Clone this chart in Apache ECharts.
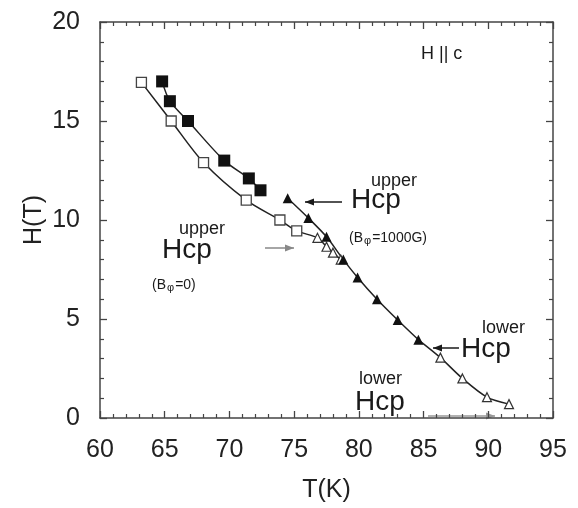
<!DOCTYPE html>
<html>
<head>
<meta charset="utf-8">
<script src="https://cdn.jsdelivr.net/npm/echarts@6/dist/echarts.min.js"></script>
<style>
	html, body { margin: 0; padding: 0; background: #fff; }
	#chart { width: 578px; height: 508px; }
</style>
</head>
<body>
<div id="chart"></div>
<script>
	// upper Hcp, B_phi = 1000G (filled squares)
	const filledSqT = [64.8, 65.4, 66.8, 69.6, 71.5, 72.4];
	const filledSqH = [17.0, 16.0, 15.0, 13.0, 12.1, 11.5];
	// upper Hcp, B_phi = 0 (open squares)
	const openSqT = [63.2, 65.5, 68.0, 71.3, 73.9, 75.2];
	const openSqH = [16.95, 15.0, 12.9, 11.0, 10.0, 9.45];
	// filled triangles
	const filledTriT = [74.5, 76.1, 77.5, 78.8, 79.9, 81.4, 83.0, 84.6];
	const filledTriH = [11.1, 10.1, 9.15, 8.0, 7.1, 6.0, 4.95, 3.95];
	// open triangles (upper group follows the open squares)
	const openTriUpT = [76.8, 77.5, 78.0, 78.6];
	const openTriUpH = [9.1, 8.65, 8.35, 8.0];
	// open triangles, lower end
	const openTriLowT = [86.3, 88.0, 89.9, 91.6];
	const openTriLowH = [3.05, 2.0, 1.05, 0.7];

	const xTicks = [60, 65, 70, 75, 80, 85, 90, 95];
	const yTicks = [0, 5, 10, 15, 20];

	const pair = (t, h) => t.map((v, i) => [v, h[i]]);

	const openSq = { color: '#fff', borderColor: '#444', borderWidth: 1.3 };
	const openTri = { color: '#fff', borderColor: '#333', borderWidth: 1.2 };

	// B_phi=0 curve: open squares then the upper open triangles
	const zeroData = pair(openSqT, openSqH).map(p => ({ value: p, symbol: 'rect', symbolSize: 10, itemStyle: openSq }))
		.concat(pair(openTriUpT, openTriUpH).map(p => ({ value: p, symbol: 'triangle', symbolSize: 9, itemStyle: openTri })));

	// lower tail: starts at the last filled triangle
	const lastF = filledTriT.length - 1;
	const tailData = [{ value: [filledTriT[lastF], filledTriH[lastF]], symbol: 'none' }]
		.concat(pair(openTriLowT, openTriLowH).map(p => ({ value: p, symbol: 'triangle', symbolSize: 9, itemStyle: openTri })));

	const axisCol = '#444';
	const baseX = {
		type: 'value', min: xTicks[0], max: xTicks[xTicks.length - 1], interval: 5,
		axisLine: { show: true, onZero: false, lineStyle: { color: axisCol, width: 1.5 } },
		axisTick: { inside: true, length: 7, lineStyle: { color: axisCol, width: 1.3 } },
		minorTick: { show: true, splitNumber: 5, length: 4, lineStyle: { color: axisCol, width: 1.2 } },
		splitLine: { show: false }
	};
	const baseY = {
		type: 'value', min: yTicks[0], max: yTicks[yTicks.length - 1], interval: 5,
		axisLine: { show: true, onZero: false, lineStyle: { color: axisCol, width: 1.5 } },
		axisTick: { inside: true, length: 7, lineStyle: { color: axisCol, width: 1.3 } },
		minorTick: { show: true, splitNumber: 5, length: 4, lineStyle: { color: axisCol, width: 1.2 } },
		splitLine: { show: false }
	};
	const font = '"Liberation Sans", Arial, sans-serif';

	function txt(x, y, text, size, extra) {
		return Object.assign({
			type: 'text', x: x, y: y, silent: true,
			style: { text: text, font: size + 'px ' + font, fill: '#1a1a1a', textVerticalAlign: 'middle' }
		}, extra || {});
	}
	function arrow(x1, x2, y, col) {
		const dir = x2 > x1 ? -1 : 1;
		return [
			{ type: 'line', silent: true, shape: { x1: x1, y1: y, x2: x2, y2: y }, style: { stroke: col, lineWidth: 1.5 } },
			{ type: 'polygon', silent: true, shape: { points: [[x2, y], [x2 + dir * 9, y - 3.5], [x2 + dir * 9, y + 3.5]] }, style: { fill: col } }
		];
	}
	function bphi(x, y, rest) {
		return {
			type: 'text', x: x, y: y, silent: true,
			style: {
				text: '{n|(B}{s|φ}{n|' + rest + ')}', textVerticalAlign: 'middle',
				rich: {
					n: { font: '14px ' + font, fill: '#1a1a1a' },
					s: { font: '11px ' + font, fill: '#1a1a1a', padding: [6, 1, 0, 1] }
				}
			}
		};
	}

	const chart = echarts.init(document.getElementById('chart'));
	chart.setOption({
		animation: false,
		backgroundColor: '#fff',
		grid: { left: 100, right: 25, top: 22, bottom: 79, show: false },
		xAxis: [
			Object.assign({}, baseX, {
				position: 'bottom',
				axisLabel: { fontSize: 25, color: '#222', margin: 20, fontFamily: font },
				name: 'T(K)', nameLocation: 'middle', nameGap: 60,
				nameTextStyle: { fontSize: 25, color: '#222', fontFamily: font }
			}),
			Object.assign({}, baseX, { position: 'top', axisLabel: { show: false } })
		],
		yAxis: [
			Object.assign({}, baseY, {
				position: 'left',
				axisLabel: { fontSize: 25, color: '#222', margin: 20, fontFamily: font },
				name: 'H(T)', nameLocation: 'middle', nameGap: 53, nameRotate: 90,
				nameMoveOverlap: false,
				nameTextStyle: { fontSize: 25, color: '#222', fontFamily: font }
			}),
			Object.assign({}, baseY, { position: 'right', axisLabel: { show: false } })
		],
		series: [
			{
				name: 'filledSq', type: 'line', smooth: 0.3,
				data: pair(filledSqT, filledSqH),
				symbol: 'rect', symbolSize: 12,
				itemStyle: { color: '#111' },
				lineStyle: { color: '#222', width: 1.5 }
			},
			{
				name: 'zero', type: 'line', smooth: 0.3,
				data: zeroData,
				lineStyle: { color: '#222', width: 1.5 }
			},
			{
				name: 'tail', type: 'line', smooth: 0.3,
				data: tailData,
				lineStyle: { color: '#222', width: 1.5 }
			},
			{
				name: 'filledTri', type: 'line', smooth: 0.3,
				data: pair(filledTriT, filledTriH),
				symbol: 'triangle', symbolSize: 10,
				itemStyle: { color: '#111' },
				lineStyle: { color: '#222', width: 1.5 }
			}
		],
		graphic: [
			txt(421, 54, 'H || c', 18),
			// upper, B_phi = 1000G
			txt(371, 181, 'upper', 18),
			txt(351, 200, 'Hcp', 28),
			bphi(349, 238, '=1000G'),
			// upper, B_phi = 0
			txt(179, 229, 'upper', 18),
			txt(162, 250, 'Hcp', 28),
			bphi(152, 285, '=0'),
			// lower labels
			txt(482, 328, 'lower', 18),
			txt(461, 349, 'Hcp', 28),
			txt(359, 379, 'lower', 18),
			txt(355, 402, 'Hcp', 28)
		].concat(
			arrow(342, 305, 202, '#1a1a1a'),
			arrow(265, 294, 248, '#888'),
			arrow(459, 433, 348, '#1a1a1a'),
			arrow(428, 495, 416, '#999')
		)
	});
</script>
</body>
</html>
